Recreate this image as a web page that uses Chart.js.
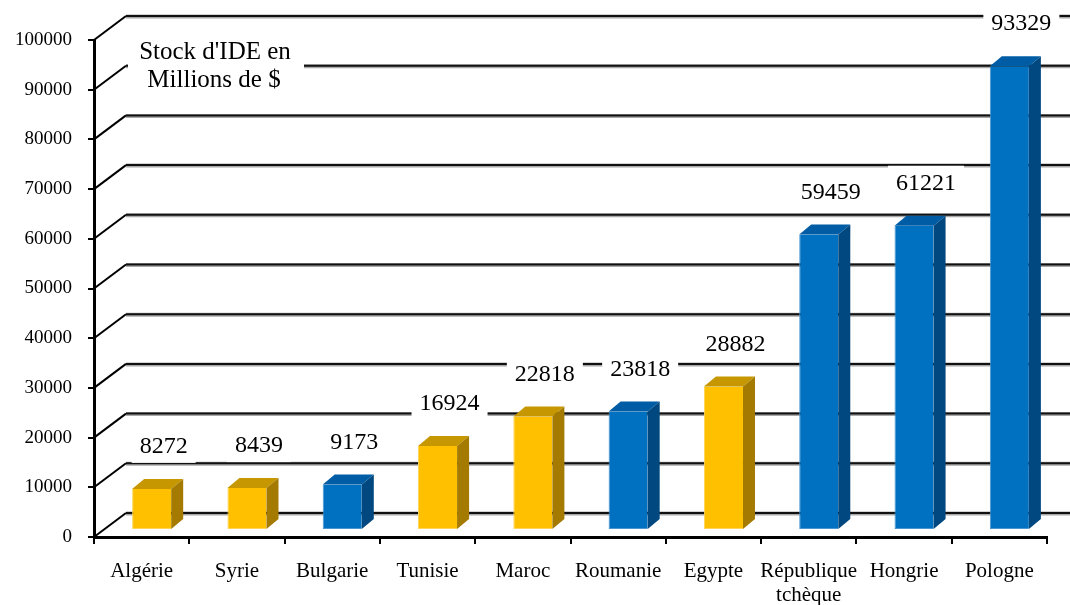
<!DOCTYPE html>
<html lang="fr">
<head>
<meta charset="UTF-8">
<title>Stock d'IDE en millions de $</title>
<script src="https://cdn.jsdelivr.net/npm/chart.js"></script>
<style>
  html,body{margin:0;padding:0;background:#fff}
  #wrap{width:1070px;height:605px}
</style>
</head>
<body>
<div id="wrap"><canvas id="ideChart" width="1070" height="605"></canvas></div>
<script>
// données
const pays = ['Algérie','Syrie','Bulgarie','Tunisie','Maroc','Roumanie','Egypte',['République','tchèque'],'Hongrie','Pologne'];
const stockIDE = [8272,8439,9173,16924,22818,23818,28882,59459,61221,93329];
const groupe = ['MENA','MENA','PECO','MENA','MENA','PECO','MENA','PECO','PECO','PECO'];
const axeMin = 0, axeMax = 100000, axePas = 10000;
const titre = ["Stock d'IDE en", "Millions de $"];

const SERIF = '"Liberation Serif","Times New Roman",serif';
const couleurs = {
  MENA:{face:'#FFC000',bord:'#FFD45A',haut:'#C69700',cote:'#A47A00'},
  PECO:{face:'#0070C0',bord:'#4A96D2',haut:'#005DA5',cote:'#00487F'}
};
const PROF  = {dx:32, dy:-24};  // mur du fond
const BARRE = {dx:10, dy:-7};   // position des barres dans la profondeur
const EP    = {dx:12, dy:-10};  // épaisseur des barres

/* décor 3D : mur du fond, faces des barres, étiquettes */
const effet3D = {
  id:'effet3D',
  beforeDatasetsDraw(chart){
    const {ctx, chartArea:a, scales:{y}} = chart;
    ctx.save();
    y.ticks.forEach(t=>{
      const yf = y.getPixelForValue(t.value);
      const xb = a.left + PROF.dx, yb = yf + PROF.dy;
      ctx.strokeStyle='#000'; ctx.lineWidth=2;
      ctx.beginPath(); ctx.moveTo(a.left,yf); ctx.lineTo(xb,yb); ctx.stroke();
      ctx.strokeStyle='#a8a8a8'; ctx.lineWidth=4;
      ctx.beginPath(); ctx.moveTo(xb,yb+0.5); ctx.lineTo(chart.width,yb+0.5); ctx.stroke();
      ctx.strokeStyle='#111'; ctx.lineWidth=2;
      ctx.beginPath(); ctx.moveTo(xb,yb); ctx.lineTo(chart.width,yb); ctx.stroke();
    });
    ctx.restore();
    ctx.save();
    ctx.translate(BARRE.dx, BARRE.dy);
  },
  afterDatasetsDraw(chart){
    const {ctx, chartArea:a} = chart;
    const meta = chart.getDatasetMeta(0);
    const pos = [];
    meta.data.forEach((el,i)=>{
      const {x, y, base, width} = el.getProps(['x','y','base','width'], true);
      const c = couleurs[groupe[i]];
      const l = x - width/2, r = x + width/2;
      ctx.fillStyle = c.haut;
      ctx.beginPath();
      ctx.moveTo(l,y); ctx.lineTo(l+EP.dx,y+EP.dy); ctx.lineTo(r+EP.dx,y+EP.dy); ctx.lineTo(r,y);
      ctx.closePath(); ctx.fill();
      ctx.fillStyle = c.cote;
      ctx.beginPath();
      ctx.moveTo(r,y); ctx.lineTo(r+EP.dx,y+EP.dy); ctx.lineTo(r+EP.dx,base+EP.dy); ctx.lineTo(r,base);
      ctx.closePath(); ctx.fill();
      pos.push({x:x+BARRE.dx+EP.dx/2+6, y:y+BARRE.dy-42});
    });
    ctx.restore();

    // étiquettes de valeur
    ctx.save();
    ctx.font = '24px '+SERIF;
    ctx.textAlign='center'; ctx.textBaseline='middle';
    pos.forEach((p,i)=>{
      const txt = String(stockIDE[i]);
      const w = ctx.measureText(txt).width + 16;
      ctx.fillStyle='#fff'; ctx.fillRect(p.x-w/2, p.y-18, w, 34);
      ctx.fillStyle='#000'; ctx.fillText(txt, p.x, p.y);
    });

    // titre de l'axe
    const tx = a.left + 34, ty = a.top - 4;
    ctx.fillStyle='#fff'; ctx.fillRect(tx, ty, 176, 60);
    ctx.fillStyle='#000'; ctx.font='25px '+SERIF;
    ctx.fillText(titre[0], tx+87, ty+16);
    ctx.fillText(titre[1], tx+86, ty+44);
    ctx.restore();
  }
};

new Chart(document.getElementById('ideChart'),{
  type:'bar',
  data:{
    labels:pays,
    datasets:[{
      data:stockIDE,
      backgroundColor:groupe.map(g=>couleurs[g].face),
      borderColor:groupe.map(g=>couleurs[g].bord),
      borderWidth:{left:1,bottom:1,top:0,right:0},
      borderSkipped:false,
      barPercentage:0.41,
      categoryPercentage:1
    }]
  },
  options:{
    responsive:false,
    animation:false,
    layout:{padding:{top:40,right:23,left:0,bottom:0}},
    plugins:{legend:{display:false},tooltip:{enabled:false}},
    scales:{
      x:{
        afterFit:s=>{s.height=68;},
        grid:{drawOnChartArea:false,drawTicks:true,tickLength:7,color:'#000',lineWidth:2},
        border:{display:true,color:'#000',width:3},
        ticks:{color:'#000',padding:15,maxRotation:0,autoSkip:false,font:{family:SERIF,size:21,lineHeight:1.15}}
      },
      y:{
        min:axeMin,max:axeMax,
        afterFit:s=>{s.width=94;},
        grid:{drawOnChartArea:false,drawTicks:true,tickLength:6,color:'#000',lineWidth:2},
        border:{display:true,color:'#000',width:3},
        ticks:{stepSize:axePas,color:'#000',padding:16,font:{family:SERIF,size:19},callback:v=>String(v)}
      }
    }
  },
  plugins:[effet3D]
});
</script>
</body>
</html>
